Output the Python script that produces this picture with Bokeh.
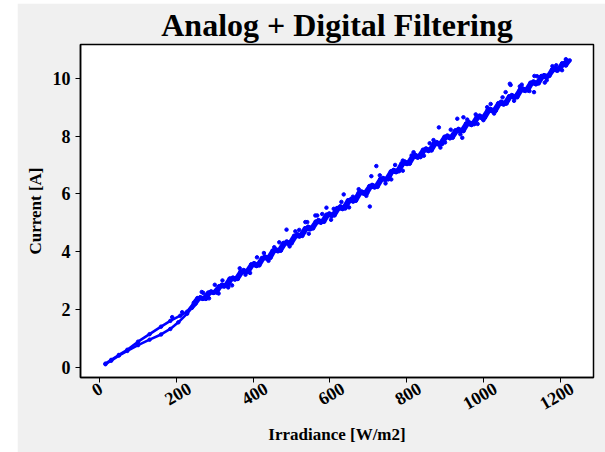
from bokeh.plotting import figure
from bokeh.layouts import column, row
from bokeh.models import Spacer, Range1d, FixedTicker, LinearAxis
from bokeh.embed import file_html
from bokeh.resources import INLINE
import math

# ---- data ----
# rising trace (lower branch at low irradiance, then through the band)
irr_up = [15, 30, 50, 72, 100, 130, 160, 184, 205, 228, 240,
          250, 262, 277, 290, 305, 318, 333, 347, 360, 375, 388, 402, 416, 430, 445, 458,
          472, 487, 500, 515, 528, 543, 556, 570, 585, 598, 612, 627, 640, 655, 668, 682,
          697, 710, 724, 738, 752, 766, 780, 795, 808, 822, 836, 850, 865, 878, 892, 906,
          920, 935, 948, 962, 976, 990, 1004, 1018, 1032, 1046, 1060, 1074, 1088, 1102,
          1116, 1130, 1144, 1158, 1172, 1186, 1200, 1212, 1222]
cur_up = [0.10, 0.22, 0.40, 0.56, 0.76, 0.95, 1.13, 1.32, 1.55, 1.85, 2.05,
          2.20, 2.42, 2.36, 2.62, 2.58, 2.85, 2.82, 3.10, 3.05, 3.36, 3.30, 3.60, 3.52, 3.83, 3.78, 4.08,
          4.03, 4.35, 4.28, 4.60, 4.54, 4.86, 4.80, 5.09, 5.03, 5.32, 5.25, 5.57, 5.49, 5.82, 5.76, 6.08,
          6.02, 6.31, 6.24, 6.55, 6.50, 6.83, 6.78, 7.12, 7.04, 7.35, 7.27, 7.57, 7.50, 7.79, 7.72, 8.02,
          7.94, 8.25, 8.17, 8.48, 8.41, 8.71, 8.63, 8.94, 8.87, 9.19, 9.12, 9.42, 9.34, 9.65,
          9.58, 9.89, 9.82, 10.11, 10.08, 10.35, 10.32, 10.54, 10.60]

# falling trace (through the band, then upper branch at low irradiance)
irr_dn = [1225, 1215, 1205, 1193, 1179, 1165, 1151, 1137, 1123, 1109, 1095, 1081, 1067, 1053,
          1039, 1025, 1011, 997, 983, 969, 955, 941, 927, 913, 899, 885, 871, 857, 843, 829,
          815, 801, 787, 773, 759, 745, 731, 717, 703, 689, 675, 661, 647, 633, 619, 605,
          591, 577, 563, 549, 535, 521, 507, 493, 479, 465, 451, 437, 423, 409, 395, 381,
          367, 353, 339, 325, 311, 297, 283, 269, 255, 245,
          228, 210, 184, 160, 130, 100, 72, 50, 30, 15]
cur_dn = [10.62, 10.44, 10.52, 10.26, 10.31, 10.02, 10.08, 9.79, 9.85, 9.56, 9.61, 9.32, 9.38, 9.09,
          9.14, 8.85, 8.90, 8.61, 8.67, 8.38, 8.44, 8.15, 8.20, 7.92, 7.98, 7.70, 7.75, 7.48, 7.53, 7.25,
          7.31, 7.03, 7.06, 6.75, 6.78, 6.48, 6.51, 6.22, 6.27, 6.00, 6.04, 5.73, 5.78, 5.47, 5.51, 5.23,
          5.28, 5.00, 5.04, 4.77, 4.81, 4.52, 4.55, 4.26, 4.30, 4.01, 4.04, 3.75, 3.78, 3.50, 3.56, 3.28,
          3.31, 3.03, 3.07, 2.79, 2.80, 2.57, 2.58, 2.36, 2.39, 2.22,
          1.92, 1.78, 1.60, 1.40, 1.14, 0.88, 0.60, 0.42, 0.25, 0.12]

# samples at the edges of the band
irr_edge = [270, 285, 320, 335, 365, 392, 410, 440, 468, 495, 510, 545, 580, 603, 630, 650,
            675, 695, 730, 745, 770, 790, 818, 845, 870, 888, 915, 940, 958, 985, 1010, 1028,
            1050, 1080, 1095, 1120, 1140, 1165, 1180, 1205, 1215]
cur_edge = [2.57, 2.38, 3.00, 2.76, 3.42, 3.26, 3.80, 3.68, 4.32, 4.18, 4.70, 4.62, 5.30, 5.10,
            5.72, 5.53, 6.16, 5.93, 6.64, 6.36, 7.00, 6.80, 7.44, 7.32, 7.86, 7.60, 8.22, 8.06,
            8.57, 8.42, 9.00, 8.78, 9.34, 9.22, 9.72, 9.56, 10.07, 9.93, 10.42, 10.28, 10.66]

# scattered samples off the main band
irr_out = [884, 1071, 1133, 932, 945, 1132, 487, 567, 541, 428, 345, 310, 721, 708, 704,
           636, 591, 562, 536, 813, 948, 1019, 1069, 1058, 189, 215, 266, 300, 380, 455,
           520, 610, 660, 760, 790, 860, 900, 980, 1000, 1100, 1160, 1190]
cur_out = [8.30, 9.77, 10.08, 8.60, 7.94, 9.52, 4.76, 5.25, 5.02, 3.95, 2.83, 2.55, 6.96, 6.61, 5.56,
           5.98, 5.52, 5.25, 5.02, 7.33, 8.65, 9.11, 9.81, 9.52, 1.73, 1.90, 2.60, 2.85, 3.20, 4.15,
           4.75, 5.48, 5.90, 6.50, 7.15, 7.75, 7.78, 8.75, 8.55, 9.78, 9.85, 10.45]

x_ticks = [0, 200, 400, 600, 800, 1000, 1200]
x_tick_labels = ["0", "200", "400", "600", "800", "1000", "1200"]
y_ticks = [0, 2, 4, 6, 8, 10]

X_MIN, X_MAX = -50, 1287
Y_MIN, Y_MAX = -0.36, 11.17
BAND_START = 245  # irradiance where the two thin branches merge into the dense band

BLUE = "#0000ff"
SERIF = "Liberation Serif"

FRAME_W = 513  # px
# Bokeh anchors rotated labels at their end; shift (px, by label length) to centre them
LABEL_SHIFT_PX = {1: 1, 2: 7, 3: 13, 4: 12}

p = figure(width=588, height=449,
           x_range=Range1d(X_MIN, X_MAX), y_range=Range1d(Y_MIN, Y_MAX),
           output_backend="svg", toolbar_location=None,
           min_border_left=63, min_border_right=12, min_border_top=41, min_border_bottom=75,
           border_fill_color="#f0f0f0", background_fill_color="white")

p.title.text = "Analog + Digital Filtering"
p.title.align = "center"
p.title.text_font = SERIF
p.title.text_font_size = "32px"
p.title.text_font_style = "bold"
p.title.text_color = "black"
p.title.standoff = 0
p.title.vertical_align = "top"

# thin branches at low irradiance, thicker dense band above
for xs, ys in ((irr_up, cur_up), (irr_dn, cur_dn)):
    lo = [(x, y) for x, y in zip(xs, ys) if x <= BAND_START + 5]
    hi = [(x, y) for x, y in zip(xs, ys) if x >= BAND_START - 5]
    p.line([a for a, b in lo], [b for a, b in lo], line_color=BLUE, line_width=2.6)
    p.line([a for a, b in hi], [b for a, b in hi], line_color=BLUE, line_width=4)
p.scatter(irr_up, cur_up, size=3.5, color=BLUE)
p.scatter(irr_dn, cur_dn, size=3.5, color=BLUE)
p.scatter(irr_edge, cur_edge, size=3.5, color=BLUE)
p.scatter(irr_out, cur_out, size=3.5, color=BLUE)

p.xgrid.visible = False
p.ygrid.visible = False
p.outline_line_color = "black"
p.outline_line_width = 1.5

for ax in (p.xaxis, p.yaxis):
    ax.axis_line_color = "black"
    ax.axis_line_width = 1.5
    ax.major_tick_line_color = "black"
    ax.major_tick_in = 0
    ax.major_tick_out = 5
    ax.major_label_text_font = SERIF
    ax.major_label_text_font_style = "bold"
    ax.major_label_text_font_size = "18px"
    ax.major_label_text_color = "black"
    ax.axis_label_text_font = SERIF
    ax.axis_label_text_font_style = "bold"
    ax.axis_label_text_font_size = "17px"
    ax.axis_label_text_color = "black"

p.yaxis.ticker = FixedTicker(ticks=y_ticks)
p.yaxis.minor_tick_line_color = None
p.yaxis.axis_label = "Current [A]"

# main x axis: tick marks only (as unlabeled minor ticks)
p.xaxis.ticker = FixedTicker(ticks=[], minor_ticks=x_ticks)
p.xaxis.minor_tick_line_color = "black"
p.xaxis.minor_tick_line_width = 1
p.xaxis.minor_tick_in = 0
p.xaxis.minor_tick_out = 5

# label axis: rotated tick labels centred under the ticks, plus the axis title
units_per_px = (X_MAX - X_MIN) / FRAME_W
lab_pos = [t + LABEL_SHIFT_PX[len(s)] * units_per_px for t, s in zip(x_ticks, x_tick_labels)]
lab_axis = LinearAxis(ticker=FixedTicker(ticks=lab_pos),
                      major_label_overrides={pos: s for pos, s in zip(lab_pos, x_tick_labels)},
                      axis_line_color=None, major_tick_line_color=None,
                      major_tick_out=0, major_tick_in=0, minor_tick_line_color=None,
                      major_label_orientation=math.pi / 6, major_label_standoff=4,
                      major_label_text_font=SERIF, major_label_text_font_style="bold",
                      major_label_text_font_size="18px", major_label_text_color="black",
                      axis_label="Irradiance [W/m2]", axis_label_standoff=6,
                      axis_label_text_font=SERIF, axis_label_text_font_style="bold",
                      axis_label_text_font_size="17px", axis_label_text_color="black")
p.add_layout(lab_axis, "below")

layout = column(Spacer(height=3), row(Spacer(width=17), p))
open("out.html", "w").write(file_html(layout, INLINE))
